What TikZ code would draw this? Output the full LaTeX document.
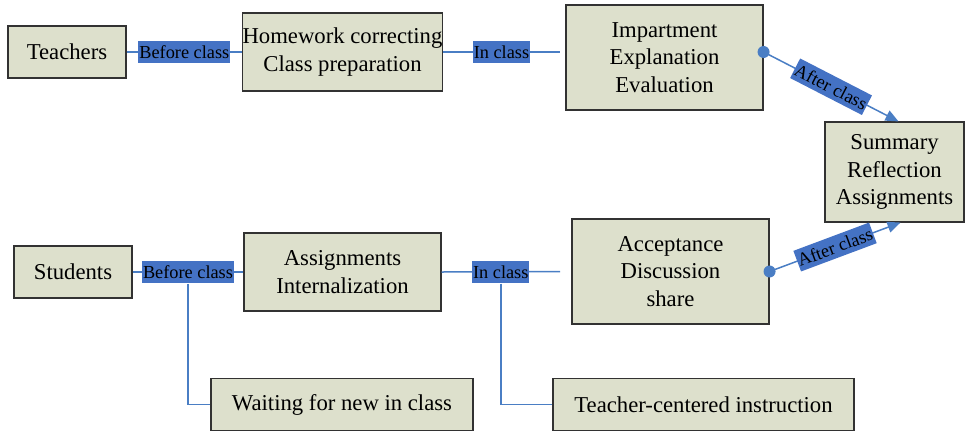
\documentclass[tikz,border=0pt]{standalone}
\usepackage{fontspec}
\setmainfont{Liberation Serif}
\usetikzlibrary{arrows.meta}
\definecolor{boxfill}{RGB}{221,224,204}
\definecolor{boxline}{RGB}{50,50,50}
\definecolor{lblfill}{RGB}{68,114,196}
\definecolor{connc}{RGB}{74,126,196}
\tikzset{
  box/.style={draw=boxline, line width=1.1pt, fill=boxfill, align=center, inner sep=0pt,
    font=\fontsize{22.7}{27.5}\selectfont},
  lbl/.style={fill=lblfill, text=black, inner xsep=1pt, inner ysep=0pt, minimum height=22pt,
    font=\fontsize{18.3}{20}\selectfont},
  conn/.style={draw=connc, line width=1.5pt},
  arr/.style={conn, -{Triangle[length=13pt,width=11pt]}},
}
\begin{document}
\begin{tikzpicture}[x=1pt,y=-1pt]
\useasboundingbox (0,0) rectangle (965,432);
% boxes
\node[box, minimum width=118pt, minimum height=52pt] (tea) at (67,52) {Teachers};
\node[box, minimum width=197pt, minimum height=78pt] (hw) at (342.5,52) {Homework correcting\\Class preparation};
\node[box, minimum width=197pt, minimum height=105pt] (imp) at (664.5,57.5) {Impartment\\Explanation\\Evaluation};
\node[box, minimum width=139pt, minimum height=100pt] (sum) at (894.5,172) {Summary\\Reflection\\Assignments};
\node[box, minimum width=118pt, minimum height=52pt] (stu) at (73,272) {Students};
\node[box, minimum width=197pt, minimum height=78pt] (asg) at (342.5,272) {Assignments\\Internalization};
\node[box, minimum width=197pt, minimum height=105pt] (acc) at (670.5,271.5) {Acceptance\\Discussion\\share};
\node[box, minimum width=262pt, minimum height=52pt] (wait) at (342,404.5) {Waiting for new in class};
\node[box, minimum width=301pt, minimum height=52pt] (tci) at (703.5,404.5) {Teacher-centered instruction};
% end points
\coordinate (e1) at (560,52);
\coordinate (e2) at (560,271.5);
\coordinate (s1) at (imp.east |- hw.east);
\coordinate (t1) at ([xshift=4pt]sum.north);
\coordinate (t2) at ([xshift=6pt]sum.south);
% connectors
\draw[conn] (tea.east) -- node[lbl] (bc1) {Before class} (hw.west);
\draw[conn] (hw.east) -- node[lbl] (ic1) {In class} (e1);
\draw[conn] (stu.east) -- node[lbl] (bc2) {Before class} (asg.west);
\draw[conn] (asg.east) -- node[lbl] (ic2) {In class} (e2);
\draw[conn] (bc2.south) |- (wait.west);
\draw[conn] (ic2.south) |- (tci.west);
\draw[arr] (s1) -- node[lbl, sloped] (ac1) {After class} (t1);
\draw[arr] (acc.east) -- node[lbl, sloped] (ac2) {After class} (t2);
\fill[connc] (s1) circle (6pt);
\fill[connc] (acc.east) circle (6pt);
\end{tikzpicture}
\end{document}
